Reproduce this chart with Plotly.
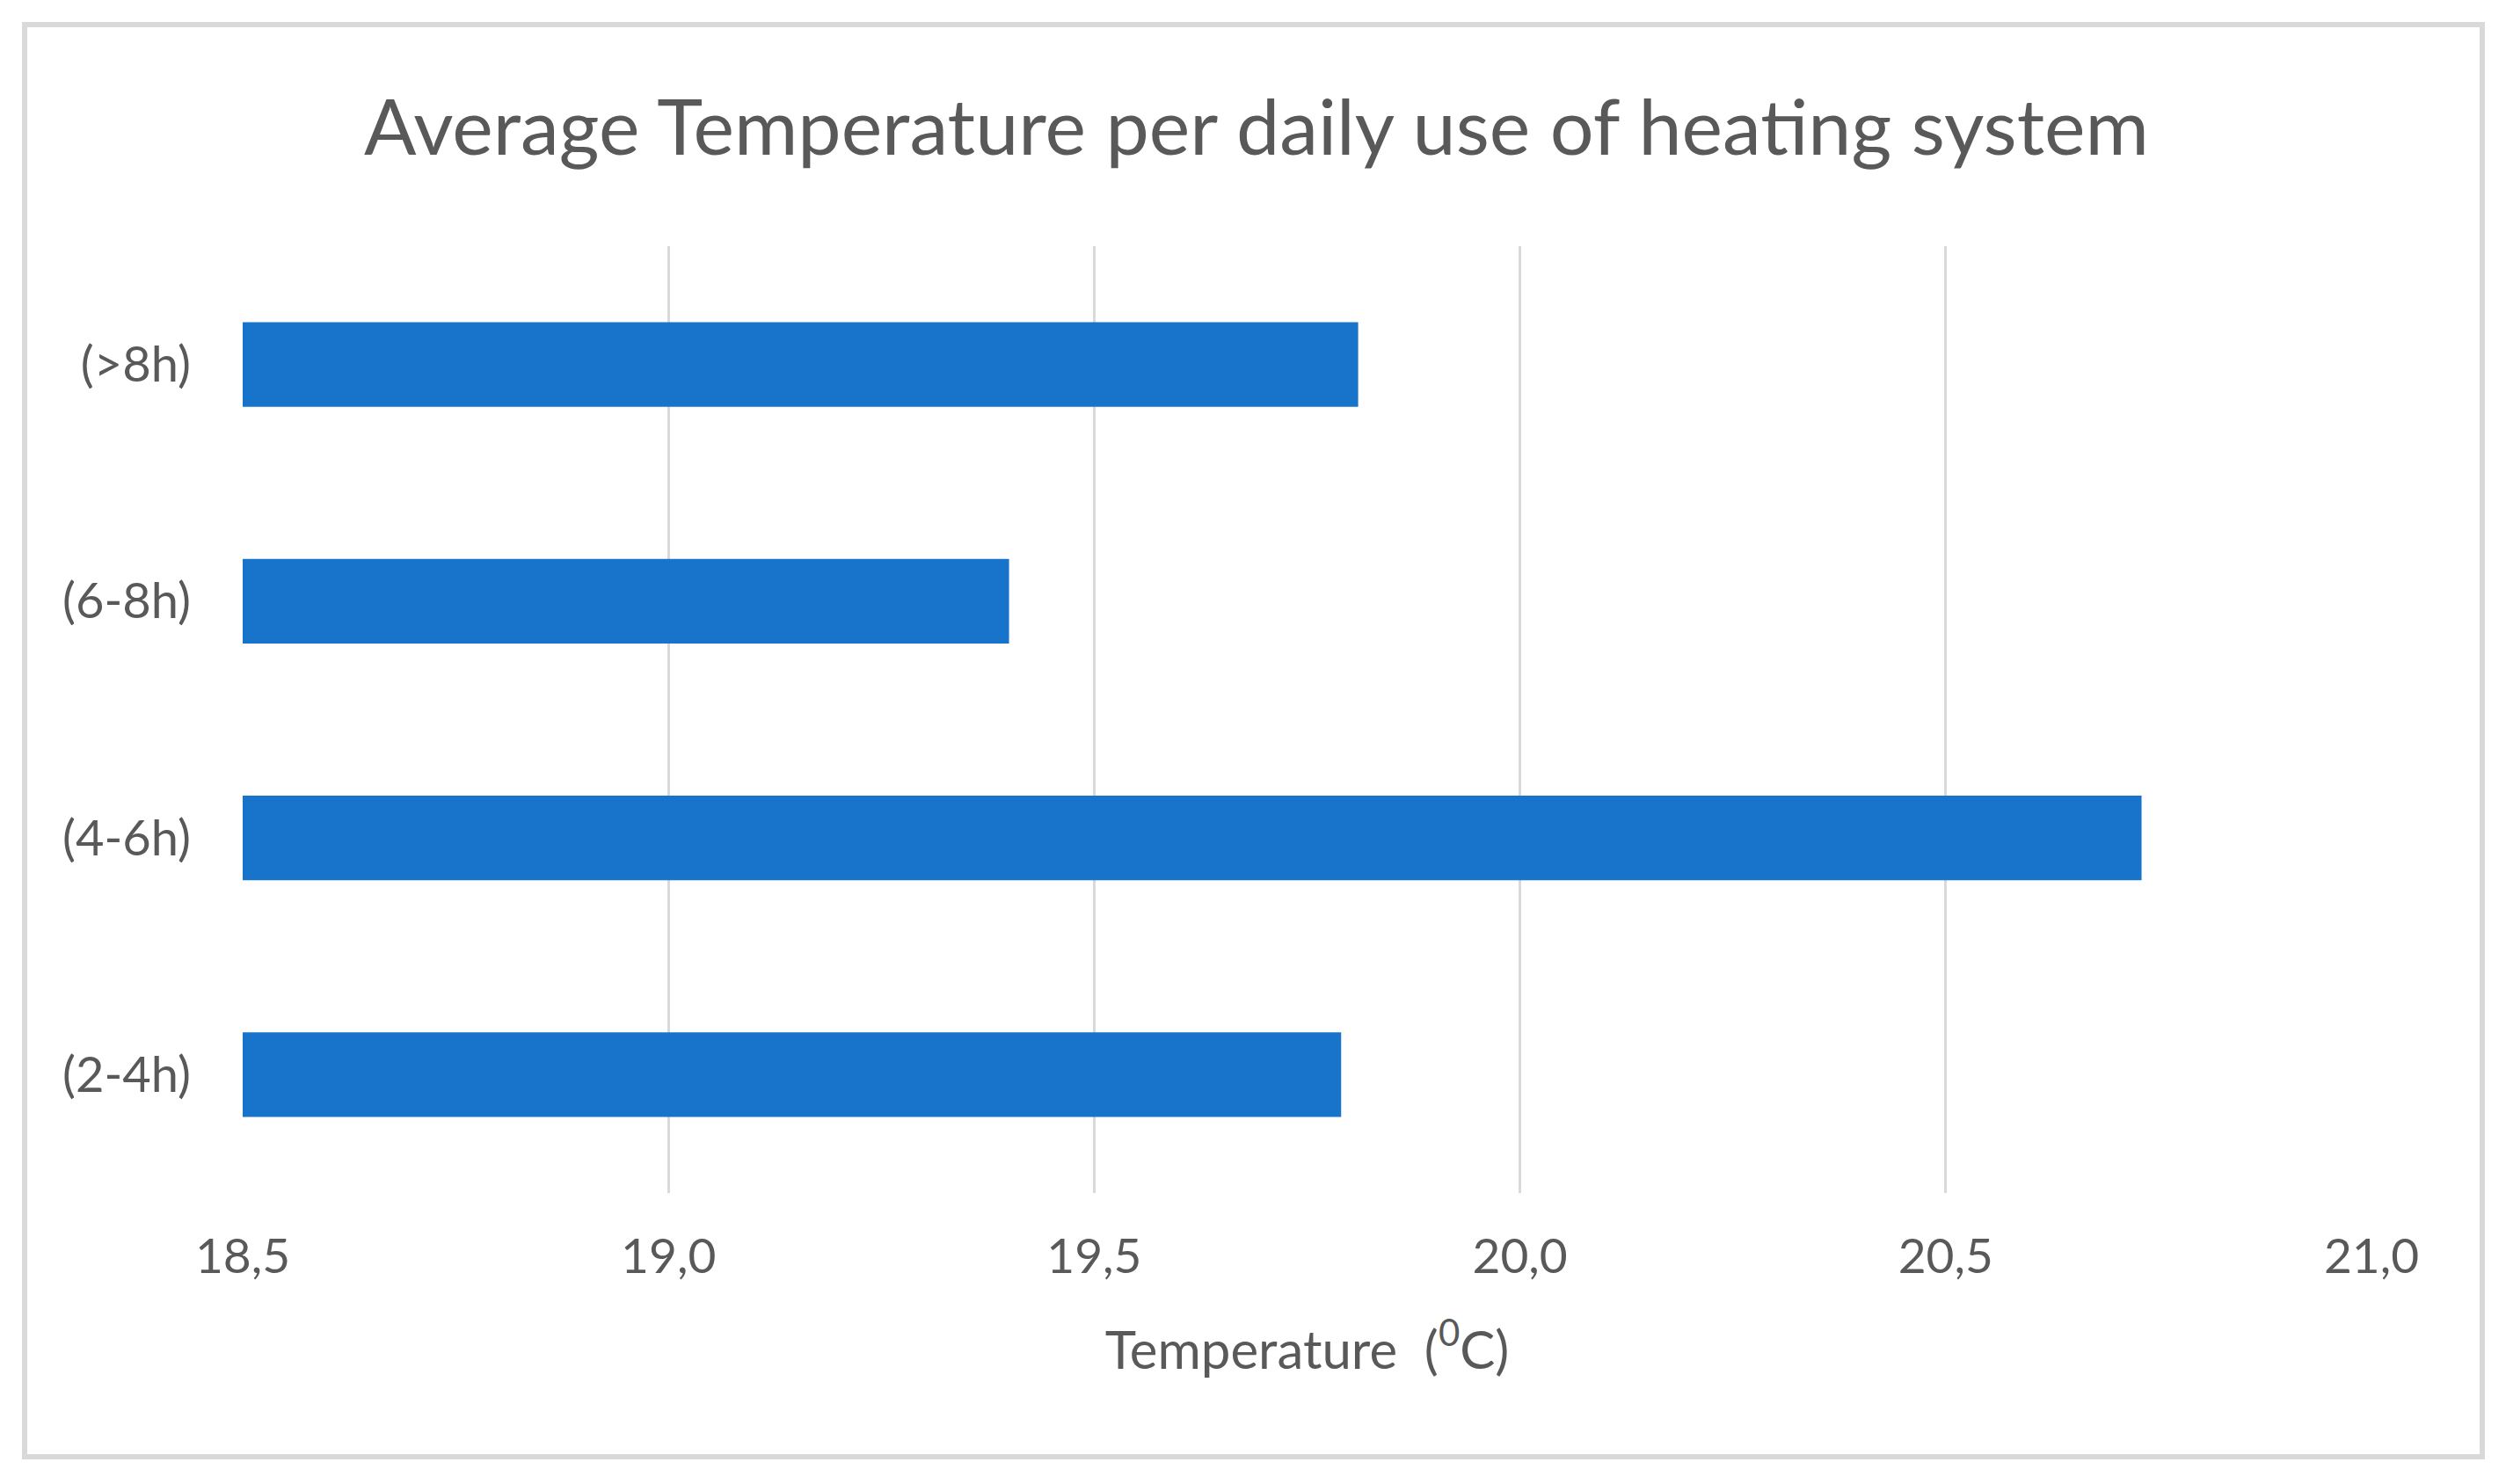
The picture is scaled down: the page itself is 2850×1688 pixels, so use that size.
import plotly.graph_objects as go

categories = ["(2-4h)", "(4-6h)", "(6-8h)", "(>8h)"]
avg_temperature = [19.79, 20.73, 19.40, 19.81]
x_ticks = [18.5, 19.0, 19.5, 20.0, 20.5, 21.0]

# page is drawn with an 8px body margin, so the figure is sized to fit inside
OFF = 8
W, H = 2850 - OFF, 1688 - OFF
L, R, T, B = 276 - OFF, 153, 280 - OFF, 331
pw, ph = W - L - R, H - T - B

def px_x(p):
    return (p - OFF - L) / pw

def px_y(p):
    return (H - B - (p - OFF)) / ph

FONT = "Lato, Open Sans, sans-serif"
GREY = "#595959"

fig = go.Figure(
    go.Bar(
        x=avg_temperature,
        y=categories,
        orientation="h",
        marker=dict(color="#1873CA", line=dict(width=0)),
        width=0.357,
    )
)

fig.update_layout(
    width=W,
    height=H,
    margin=dict(l=L, r=R, t=T, b=B, autoexpand=False),
    paper_bgcolor="white",
    plot_bgcolor="white",
    separators=",.",
    showlegend=False,
    title=dict(
        text="Average Temperature per daily use of heating system",
        x=0.5,
        xref="container",
        xanchor="center",
        y=1 - (145 - OFF) / H,
        yref="container",
        yanchor="middle",
        font=dict(family=FONT, size=88, color=GREY),
    ),
    xaxis=dict(
        range=[x_ticks[0], x_ticks[-1]],
        tickvals=x_ticks,
        tickformat=".1f",
        showgrid=True,
        gridcolor="#D9D9D9",
        gridwidth=3,
        zeroline=False,
        showline=False,
        ticks="",
        ticklabelstandoff=35,
        tickfont=dict(family=FONT, size=55, color=GREY),
        automargin=False,
        title=dict(
            text="Temperature&nbsp; (<sup>0</sup>C)",
            font=dict(family=FONT, size=60, color=GREY),
            standoff=55,
        ),
    ),
    yaxis=dict(
        categoryorder="array",
        categoryarray=categories,
        showgrid=False,
        zeroline=False,
        showline=False,
        ticks="",
        ticklabelstandoff=58,
        tickfont=dict(family=FONT, size=56, color=GREY),
        automargin=False,
    ),
    shapes=[
        dict(
            type="rect",
            xref="paper",
            yref="paper",
            x0=px_x(28),
            x1=px_x(2823),
            y0=px_y(1657),
            y1=px_y(28),
            line=dict(color="#D9D9D9", width=6),
            fillcolor="rgba(0,0,0,0)",
            layer="below",
        )
    ],
)

fig.write_html("out.html")
